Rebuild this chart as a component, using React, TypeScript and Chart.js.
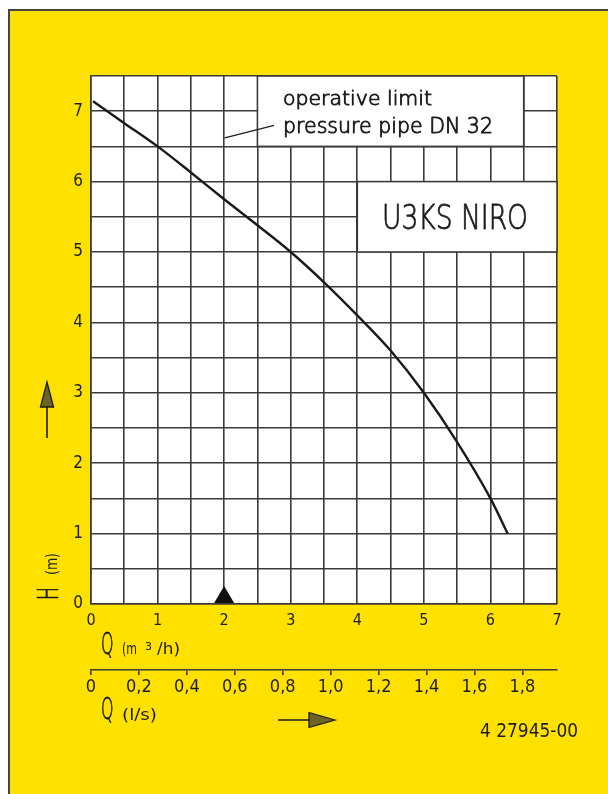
import React, { useEffect, useRef } from "react";
import { Chart, registerables } from "chart.js";

Chart.register(...registerables);

// ---- data ----
const flowM3h = [0.03, 0.5, 1, 1.5, 2, 2.5, 3, 3.5, 4, 4.5, 5, 5.5, 6, 6.26];
const headM = [7.14, 6.83, 6.5, 6.13, 5.75, 5.38, 5.0, 4.57, 4.1, 3.6, 3.0, 2.3, 1.5, 1.0];
const markerFlow = [2];
const leaderFrom = [2.01, 6.62];
const leaderTo = [2.75, 6.8];
const xMax = 7;
const yMax = 7.5;
const lsFactor = 3.6; // 1 l/s = 3.6 m3/h

const FONT = "'DejaVu Sans Condensed', 'DejaVu Sans', 'Liberation Sans', sans-serif";
const THIN = "200 {s}px 'DejaVu Sans', sans-serif";
const BOOKF = "normal {s}px " + FONT;
const YELLOW = "#FFE100";
const GRID = "#3a3a3a";
const INK = "#1c1c1c";

function fitText(
  ctx: CanvasRenderingContext2D,
  text: string,
  x: number,
  y: number,
  width: number,
  size: number,
  fontTpl: string,
  rotate = false,
  stroke = 0
) {
  ctx.save();
  ctx.font = fontTpl.replace("{s}", String(size));
  ctx.textBaseline = "alphabetic";
  ctx.textAlign = "left";
  const w = ctx.measureText(text).width;
  ctx.translate(x, y);
  if (rotate) ctx.rotate(-Math.PI / 2);
  ctx.scale(width / w, 1);
  ctx.fillStyle = INK;
  ctx.fillText(text, 0, 0);
  if (stroke > 0) {
    ctx.strokeStyle = INK;
    ctx.lineWidth = stroke;
    ctx.lineJoin = "round";
    ctx.strokeText(text, 0, 0);
  }
  ctx.restore();
}

const bgPlugin = {
  id: "bg",
  beforeDraw(chart: any) {
    const { ctx, width, height, chartArea } = chart;
    ctx.save();
    ctx.fillStyle = "#ffffff";
    ctx.fillRect(0, 0, width, height);
    ctx.fillStyle = YELLOW;
    ctx.fillRect(9, 10, width - 9, height - 10);
    ctx.strokeStyle = "#444";
    ctx.lineWidth = 2;
    ctx.beginPath();
    ctx.moveTo(9, height);
    ctx.lineTo(9, 10);
    ctx.lineTo(width, 10);
    ctx.stroke();
    ctx.fillStyle = "#ffffff";
    ctx.fillRect(chartArea.left, chartArea.top, chartArea.right - chartArea.left, chartArea.bottom - chartArea.top);
    ctx.restore();
  },
};

const overlayPlugin = {
  id: "overlay",
  afterDraw(chart: any) {
    const { ctx } = chart;
    const xs = chart.scales.x;
    const ys = chart.scales.y;
    const X = (v: number) => xs.getPixelForValue(v);
    const Y = (v: number) => ys.getPixelForValue(v);
    ctx.save();
    // white boxes over the grid
    const boxes = [
      [2.5, 6.5, 6.5, 7.5],
      [4, 7, 5, 6],
    ];
    ctx.strokeStyle = GRID;
    ctx.lineWidth = 1.6;
    for (const [x0, x1, y0, y1] of boxes) {
      ctx.fillStyle = "#fff";
      ctx.fillRect(X(x0), Y(y1), X(x1) - X(x0), Y(y0) - Y(y1));
      ctx.strokeRect(X(x0), Y(y1), X(x1) - X(x0), Y(y0) - Y(y1));
    }
    // leader line
    ctx.strokeStyle = INK;
    ctx.lineWidth = 1.3;
    ctx.beginPath();
    ctx.moveTo(X(leaderFrom[0]), Y(leaderFrom[1]));
    ctx.lineTo(X(leaderTo[0]), Y(leaderTo[1]));
    ctx.stroke();
    // box texts
    fitText(ctx, "operative limit", 283, 105, 149, 20, THIN, false, 0.9);
    fitText(ctx, "pressure pipe DN 32", 283, 133, 210, 20.5, THIN, false, 0.9);
    fitText(ctx, "U3KS NIRO", 382, 229, 146, 33, THIN, false, 0.8);
    // marker triangle
    for (const q of markerFlow) {
      const px = X(q);
      const base = Y(0) - 1;
      ctx.fillStyle = "#111";
      ctx.beginPath();
      ctx.moveTo(px - 10, base);
      ctx.lineTo(px + 10, base);
      ctx.lineTo(px, base - 17);
      ctx.closePath();
      ctx.fill();
    }
    // axis titles
    fitText(ctx, "Q", 101, 654, 12.5, 30, THIN, false, 0.8);
    fitText(ctx, "(m", 122, 654, 15, 15, BOOKF);
    fitText(ctx, "3", 145, 650, 7, 10.5, BOOKF);
    fitText(ctx, "/h)", 157, 654, 23, 15, BOOKF);
    fitText(ctx, "Q", 101, 719, 12.5, 30, THIN, false, 0.8);
    fitText(ctx, "(l/s)", 122, 720, 35, 16.5, BOOKF);
    fitText(ctx, "H", 58, 600, 13, 29, THIN, true, 0.8);
    fitText(ctx, "(m)", 57, 575, 22, 15.5, BOOKF, true);
    fitText(ctx, "4 27945-00", 480, 737, 98, 19, BOOKF);
    // arrows
    ctx.strokeStyle = INK;
    ctx.lineWidth = 1.6;
    ctx.beginPath();
    ctx.moveTo(47, 438);
    ctx.lineTo(47, 405);
    ctx.moveTo(278, 720);
    ctx.lineTo(310, 720);
    ctx.stroke();
    ctx.fillStyle = "#6b6426";
    ctx.lineWidth = 1.3;
    ctx.beginPath();
    ctx.moveTo(47, 382);
    ctx.lineTo(53.5, 407);
    ctx.lineTo(40.5, 407);
    ctx.closePath();
    ctx.fill();
    ctx.stroke();
    ctx.beginPath();
    ctx.moveTo(335, 720);
    ctx.lineTo(309, 712.5);
    ctx.lineTo(309, 727.5);
    ctx.closePath();
    ctx.fill();
    ctx.stroke();
    ctx.restore();
  },
};

export default function App() {
  const ref = useRef<HTMLCanvasElement | null>(null);
  useEffect(() => {
    document.body.style.margin = "0";
    const canvas = ref.current;
    if (!canvas) return;
    const tickFont = { family: FONT, size: 17, weight: "normal" as any };
    const chart = new Chart(canvas, {
      type: "line",
      data: {
        datasets: [
          {
            data: flowM3h.map((q, i) => ({ x: q, y: headM[i] })),
            borderColor: "#1a1a1a",
            borderWidth: 2.4,
            pointRadius: 0,
            cubicInterpolationMode: "monotone",
            xAxisID: "x",
            yAxisID: "y",
          },
        ],
      },
      options: {
        responsive: false,
        animation: false,
        devicePixelRatio: 1,
        layout: { padding: { top: 76, right: 51, bottom: 0, left: 0 } },
        plugins: { legend: { display: false }, tooltip: { enabled: false } },
        scales: {
          x: {
            type: "linear",
            position: "bottom",
            weight: 0,
            min: 0,
            max: xMax,
            ticks: {
              stepSize: 0.5,
              autoSkip: false,
              maxRotation: 0,
              padding: 7,
              color: INK,
              font: { ...tickFont, size: 16 },
              callback: (v: any) => (Number.isInteger(v) ? String(v) : ""),
            },
            grid: { color: GRID, lineWidth: 1.6, drawTicks: false },
            border: { color: GRID, width: 1.6 },
            afterFit: (s: any) => {
              s.height = 66;
            },
          },
          x2: {
            type: "linear",
            position: "bottom",
            weight: 1,
            min: 0,
            max: xMax / lsFactor,
            ticks: {
              stepSize: 0.2,
              includeBounds: false,
              autoSkip: false,
              maxRotation: 0,
              padding: 2,
              color: INK,
              font: { ...tickFont, size: 18 },
              callback: (v: any) => (Math.abs(v) < 1e-9 ? "0" : Number(v).toFixed(1).replace(".", ",")),
            },
            grid: { drawOnChartArea: false, drawTicks: true, tickLength: 5, color: GRID, lineWidth: 1.6 },
            border: { color: GRID, width: 1.6 },
            afterFit: (s: any) => {
              s.height = 124;
            },
          },
          y: {
            type: "linear",
            min: 0,
            max: yMax,
            ticks: {
              stepSize: 0.5,
              autoSkip: false,
              padding: 8,
              color: INK,
              font: tickFont,
              callback: (v: any) => (Number.isInteger(v) ? String(v) : ""),
            },
            grid: { color: GRID, lineWidth: 1.6, drawTicks: false },
            border: { color: GRID, width: 1.6 },
            afterFit: (s: any) => {
              s.width = 91;
            },
          },
        },
      } as any,
      plugins: [bgPlugin, overlayPlugin],
    });
    return () => chart.destroy();
  }, []);
  return (
    <div style={{ position: "absolute", left: 0, top: 0, width: 608, height: 794 }}>
      <canvas ref={ref} width={608} height={794} style={{ display: "block", width: 608, height: 794 }} />
    </div>
  );
}
